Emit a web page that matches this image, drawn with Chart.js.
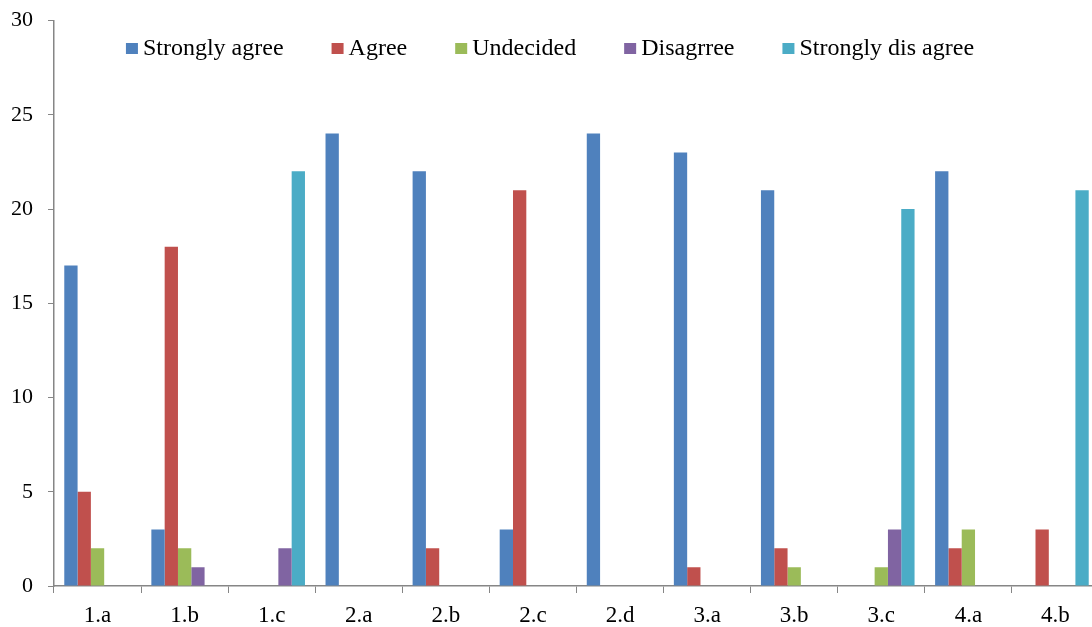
<!DOCTYPE html>
<html>
<head>
<meta charset="utf-8">
<script src="https://cdn.jsdelivr.net/npm/chart.js@4.4.1/dist/chart.umd.min.js"></script>
<style>
  html, body { margin: 0; padding: 0; background: #fff; overflow: hidden; }
  #wrap { width: 1092px; height: 627px; overflow: hidden; position: relative; }
  canvas { display: block; }
</style>
</head>
<body>
<div id="wrap"><canvas id="c" width="1100" height="627"></canvas></div>
<script>
// Survey items
const categories = ['1.a', '1.b', '1.c', '2.a', '2.b', '2.c', '2.d', '3.a', '3.b', '3.c', '4.a', '4.b'];

// Responses per item
const stronglyAgree    = [17, 3, 0, 24, 22, 3, 24, 23, 21, 0, 22, 0];
const agree            = [5, 18, 0, 0, 2, 21, 0, 1, 2, 0, 2, 3];
const undecided        = [2, 2, 0, 0, 0, 0, 0, 0, 1, 1, 3, 0];
const disagree         = [0, 1, 2, 0, 0, 0, 0, 0, 0, 3, 0, 0];
const stronglyDisagree = [0, 0, 22, 0, 0, 0, 0, 0, 0, 20, 0, 21];

const seriesNames = ['Strongly agree', 'Agree', 'Undecided', 'Disagrree', 'Strongly dis agree'];
const seriesColors = ['#4F81BD', '#C0504D', '#9BBB59', '#8064A2', '#4BACC6'];
const yTicks = [0, 5, 10, 15, 20, 25, 30];

const FONT = '"Liberation Serif", "Times New Roman", serif';
const AXIS = '#868686';

// Legend drawn across the top of the plot area
const topLegend = {
  id: 'topLegend',
  afterDraw(chart) {
    const ctx = chart.ctx;
    ctx.save();
    ctx.font = '24px ' + FONT;
    const boxW = 12, boxH = 11, boxGap = 5, itemGap = 48;
    const widths = seriesNames.map(n => ctx.measureText(n).width);
    const total = widths.reduce((a, w) => a + boxW + boxGap + w, 0) + itemGap * (seriesNames.length - 1);
    let x = (chart.width - total) / 2;
    const cy = 48.5;
    ctx.textBaseline = 'middle';
    ctx.textAlign = 'left';
    seriesNames.forEach((n, i) => {
      ctx.fillStyle = seriesColors[i];
      ctx.fillRect(x, cy - boxH / 2, boxW, boxH);
      ctx.fillStyle = '#000';
      ctx.fillText(n, x + boxW + boxGap, cy);
      x += boxW + boxGap + widths[i] + itemGap;
    });
    ctx.restore();
  }
};

const seriesData = [stronglyAgree, agree, undecided, disagree, stronglyDisagree];

new Chart(document.getElementById('c'), {
  type: 'bar',
  data: {
    labels: categories,
    datasets: seriesData.map((d, i) => ({
      label: seriesNames[i],
      data: d,
      backgroundColor: seriesColors[i],
      borderWidth: 0,
      categoryPercentage: 0.764,
      barPercentage: 1.0
    }))
  },
  options: {
    responsive: false,
    animation: false,
    layout: { padding: { top: 20, right: 1, left: 0, bottom: 0 } },
    plugins: {
      legend: { display: false },
      tooltip: { enabled: false }
    },
    scales: {
      x: {
        offset: true,
        grid: {
          offset: true,
          drawOnChartArea: false,
          drawTicks: true,
          tickLength: 7,
          color: AXIS,
          lineWidth: 1
        },
        border: { color: AXIS, width: 1.5 },
        ticks: {
          color: '#000',
          font: { family: FONT, size: 23 },
          padding: 9,
          maxRotation: 0
        },
        afterFit(scale) { scale.height = 41; }
      },
      y: {
        min: 0,
        max: 30,
        afterBuildTicks(scale) { scale.ticks = yTicks.map(v => ({ value: v })); },
        grid: {
          drawOnChartArea: false,
          drawTicks: true,
          tickLength: 6,
          color: AXIS
        },
        border: { color: AXIS, width: 1.5 },
        ticks: {
          color: '#000',
          font: { family: FONT, size: 22, lineHeight: 0.5 },
          padding: 15
        },
        afterFit(scale) { scale.width = 54; }
      }
    }
  },
  plugins: [topLegend]
});
</script>
</body>
</html>
